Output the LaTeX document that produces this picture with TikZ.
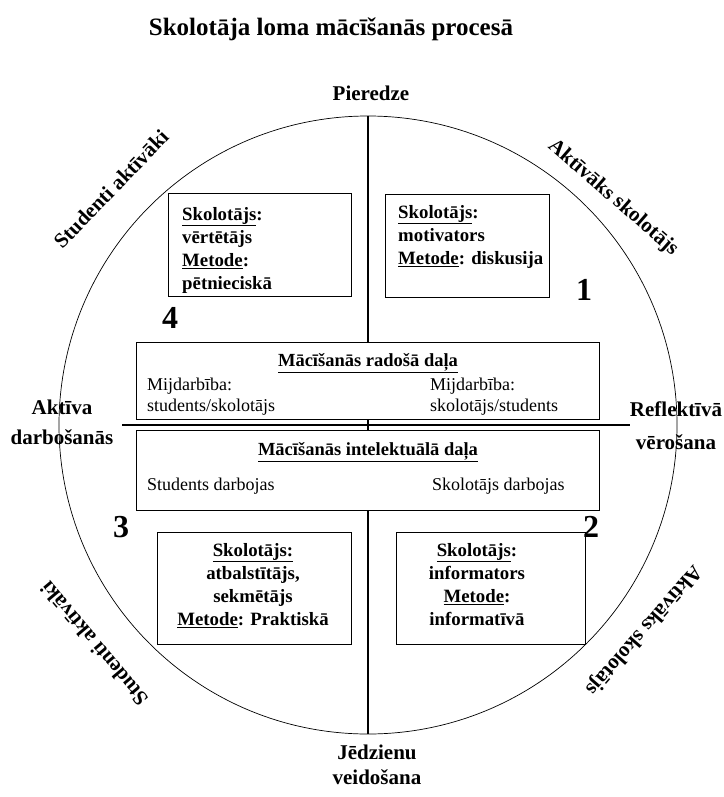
\documentclass[tikz,border=0pt]{standalone}
\usepackage{fontspec}
\setmainfont{Liberation Serif}
\usetikzlibrary{positioning}
\tikzset{
    box/.style={draw, line width=0.8pt, fill=white, inner sep=0pt},
    roletext/.style={font=\fontsize{18.8}{23}\selectfont\bfseries, inner sep=0pt},
    parttext/.style={font=\fontsize{18}{21}\selectfont, inner sep=0pt, align=left},
    parttitle/.style={font=\fontsize{18.5}{21}\selectfont\bfseries, inner sep=0pt},
    sidelabel/.style={font=\fontsize{21}{#1}\selectfont\bfseries, inner sep=0pt, align=center},
    sidelabel/.default=30,
    quarter/.style={font=\fontsize{32}{32}\selectfont\bfseries, inner sep=0pt},
    axis/.style={line width=1.6pt}
}

\begin{document}
\begin{tikzpicture}[x=1pt, y=-1pt]
    \useasboundingbox (0,0) rectangle (723,797);
    \coordinate (c) at (368,425);
    \coordinate (top) at (368,116);
    \coordinate (bot) at (368,734);
    \coordinate (hl) at (122,425);
    \coordinate (hr) at (630,425);

    \node[font=\fontsize{25}{25}\selectfont\bfseries, anchor=base] (title) at (331,36) {Skolotāja loma mācīšanās procesā};

    % circle and axes
    \draw[line width=0.7pt] (c) circle [radius=309pt];
    \draw[axis] (top) -- (bot);
    \draw[axis] (hl) -- (hr);

    % quarter boxes
    \node[box, anchor=north west, minimum width=183pt, minimum height=103pt] (b4) at (168,193) {};
    \node[box, anchor=north west, minimum width=164pt, minimum height=103pt] (b1) at (385,194) {};
    \node[box, anchor=north west, minimum width=194pt, minimum height=112pt] (b3) at (157,532) {};
    \node[box, anchor=north west, minimum width=189pt, minimum height=112pt] (b2) at (396,532) {};

    \node[roletext, align=left, anchor=north west] (t4) at (182,207) {\underline{Skolotājs}:\\vērtētājs\\\underline{Metode}:\\pētnieciskā};
    \node[roletext, align=left, anchor=north west] (t1) at (398,205) {\underline{Skolotājs}:\\motivators\\\underline{Metode}: diskusija};
    \node[roletext, align=center, anchor=north] (t3) at (253,543) {\underline{Skolotājs:}\\atbalstītājs,\\sekmētājs\\\underline{Metode}: Praktiskā};
    \node[roletext, align=center, anchor=north] (t2) at (477,543) {\underline{Skolotājs}:\\informators\\\underline{Metode}:\\informatīvā};

    % middle parts
    \node[box, anchor=north west, minimum width=463pt, minimum height=77pt] (pr) at (136,342) {};
    \node[box, anchor=north west, minimum width=463pt, minimum height=80pt] (pi) at (136,430) {};

    \node[parttitle, anchor=base] (prt) at (368,366) {\underline{Mācīšanās radošā daļa}};
    \node[parttext, anchor=north west] (prl) at (147,378) {Mijdarbība:\\students/skolotājs};
    \node[parttext, anchor=north west] (prr) at (430,378) {Mijdarbība:\\skolotājs/students};
    \node[parttitle, anchor=base] (pit) at (368,455) {\underline{Mācīšanās intelektuālā daļa}};
    \node[parttext, anchor=base west] (pil) at (147,490) {Students darbojas};
    \node[parttext, anchor=base west] (pir) at (432,490) {Skolotājs darbojas};

    % numbers
    \node[quarter] (n4) at (170,318) {4};
    \node[quarter] (n1) at (584,290) {1};
    \node[quarter] (n3) at (121,527) {3};
    \node[quarter] (n2) at (591,527) {2};

    % labels round the circle
    \node[sidelabel, anchor=base] (pier) at (371,101) {Pieredze};
    \node[sidelabel=25, anchor=north] (jedz) at (377,745) {Jēdzienu\\veidošana};
    \node[sidelabel=30, anchor=north] (akt) at (62,400) {Aktīva\\darbošanās};
    \node[sidelabel=33, anchor=north] (refl) at (676,402) {Reflektīvā\\vērošana};

    \node[sidelabel, rotate=46] (sa1) at (111,189) {Studenti aktīvāki};
    \node[sidelabel, rotate=-41] (as1) at (613,198) {Aktīvāks skolotājs};
    \node[sidelabel, rotate=130] (sa2) at (94,644) {Studenti aktīvāki};
    \node[sidelabel, rotate=-131] (as2) at (643,630) {Aktīvāks skolotājs};
\end{tikzpicture}
\end{document}
